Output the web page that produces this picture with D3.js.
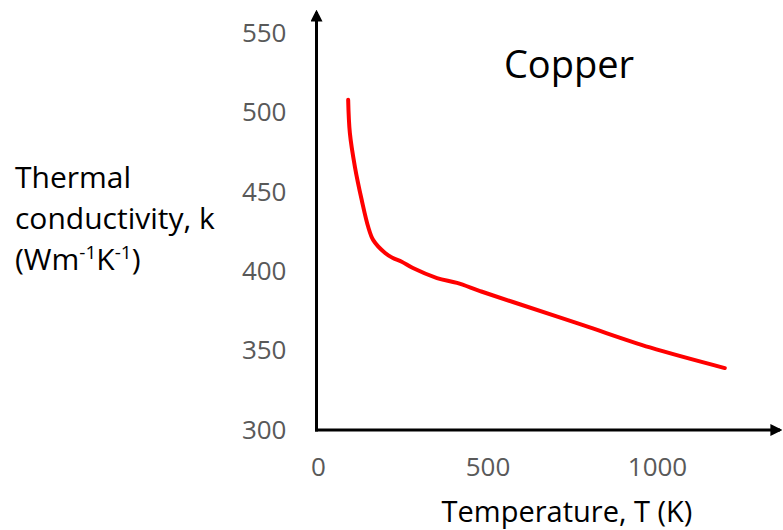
<!DOCTYPE html>
<html lang="en">
<head>
<meta charset="utf-8">
<title>Copper thermal conductivity</title>
<script src="https://d3js.org/d3.v7.min.js"></script>
<style>
  body { margin: 0; background: #fff; }
  text { font-family: "Open Sans", "Noto Sans", sans-serif; }
</style>
</head>
<body>
<div id="chart"></div>
<script>
// values
var temps = [89, 94, 109, 129, 148, 163, 198, 221, 247, 280, 351, 410, 478, 575, 782, 979, 1200];
var kvals = [508, 487, 465.6, 444.8, 428, 419.6, 411.5, 408.3, 406, 402, 395.7, 392.6, 387.5, 380.6, 366, 352, 339];
var xTicks = [0, 500, 1000];
var yTicks = [300, 350, 400, 450, 500, 550];
var yTitle = ["Thermal", "conductivity, k"];

var width = 783, height = 530;

var svg = d3.select("#chart").append("svg")
    .attr("width", width)
    .attr("height", height);

var x = d3.scaleLinear().domain([0, 1000]).range([318, 657]);
var y = d3.scaleLinear().domain([300, 550]).range([430, 33]);

// arrow head
svg.append("defs").append("marker")
    .attr("id", "arrow")
    .attr("viewBox", "0 0 10 10")
    .attr("refX", 8).attr("refY", 5)
    .attr("markerWidth", 4).attr("markerHeight", 4)
    .attr("markerUnits", "strokeWidth")
    .attr("orient", "auto")
    .append("path")
    .attr("d", "M0,0 L10,5 L0,10 z")
    .attr("fill", "#000");

var x0 = x(0) - 1.5, y0 = y(300);

// axis lines
svg.append("line")
    .attr("x1", x0).attr("y1", y0 + 1.5)
    .attr("x2", x0).attr("y2", 12)
    .attr("stroke", "#000").attr("stroke-width", 3)
    .attr("marker-end", "url(#arrow)");
svg.append("line")
    .attr("x1", x0 - 1.5).attr("y1", y0)
    .attr("x2", 780).attr("y2", y0)
    .attr("stroke", "#000").attr("stroke-width", 3)
    .attr("marker-end", "url(#arrow)");

// tick labels
var yAxis = svg.append("g")
    .attr("transform", "translate(" + (x0 - 30) + ",0)")
    .call(d3.axisLeft(y).tickValues(yTicks).tickSize(0).tickPadding(0));
yAxis.select(".domain").remove();
yAxis.selectAll("text")
    .style("font-size", "26px")
    .style("font-family", "'Open Sans', sans-serif")
    .attr("fill", "#595959");

var xAxis = svg.append("g")
    .attr("transform", "translate(0," + (y0 + 28) + ")")
    .call(d3.axisBottom(x).tickValues(xTicks).tickSize(0).tickPadding(0).tickFormat(d3.format("d")));
xAxis.select(".domain").remove();
xAxis.selectAll("text")
    .style("font-size", "26px")
    .style("font-family", "'Open Sans', sans-serif")
    .attr("fill", "#595959");

// data line
var data = temps.map(function (t, i) { return { t: t, k: kvals[i] }; });
var line = d3.line()
    .x(function (d) { return x(d.t); })
    .y(function (d) { return y(d.k); })
    .curve(d3.curveCatmullRom.alpha(0.5));

svg.append("path")
    .datum(data)
    .attr("d", line)
    .attr("fill", "none")
    .attr("stroke", "#ff0000")
    .attr("stroke-width", 4)
    .attr("stroke-linecap", "round")
    .attr("stroke-linejoin", "round");

// titles
svg.append("text")
    .attr("x", 569).attr("y", 78)
    .attr("text-anchor", "middle")
    .style("font-size", "38px")
    .text("Copper");

svg.append("text")
    .attr("x", 567).attr("y", 522)
    .attr("text-anchor", "middle")
    .style("font-size", "29px")
    .text("Temperature, T (K)");

var yt = svg.append("text")
    .attr("x", 15)
    .style("font-size", "30px");
yTitle.forEach(function (s, i) {
    yt.append("tspan").attr("x", 15).attr("y", 188 + i * 41).text(s);
});
var unit = yt.append("tspan").attr("x", 15).attr("y", 270);
unit.append("tspan").text("(Wm");
unit.append("tspan").attr("dy", -11).style("font-size", "19px").text("-1");
unit.append("tspan").attr("dy", 11).text("K");
unit.append("tspan").attr("dy", -11).style("font-size", "19px").text("-1");
unit.append("tspan").attr("dy", 11).text(")");
</script>
</body>
</html>
